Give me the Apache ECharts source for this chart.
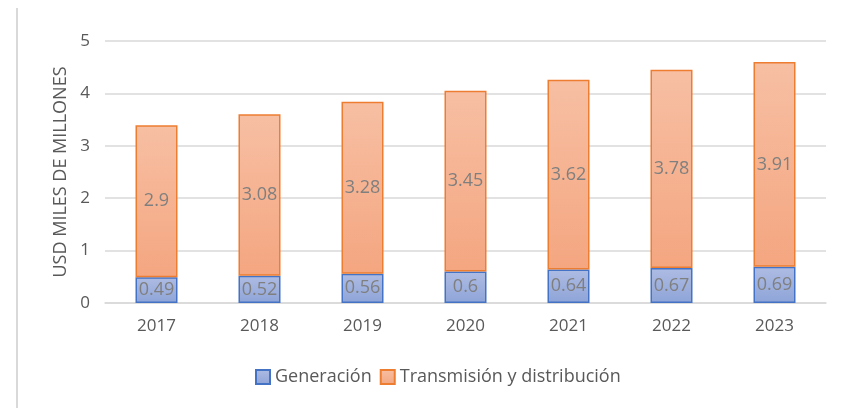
<!DOCTYPE html>
<html>
<head>
<meta charset="utf-8">
<script src="https://cdn.jsdelivr.net/npm/echarts@6/dist/echarts.min.js"></script>
<style>
  html, body { margin: 0; padding: 0; background: #fff; }
  #chart { width: 846px; height: 408px; }
</style>
</head>
<body>
<div id="chart"></div>
<script>
const years = ['2017', '2018', '2019', '2020', '2021', '2022', '2023'];
const generacion = [0.49, 0.52, 0.56, 0.6, 0.64, 0.67, 0.69];
const transmision = [2.9, 3.08, 3.28, 3.45, 3.62, 3.78, 3.91];
const yTicks = [0, 1, 2, 3, 4, 5];

const FONT = '"Open Sans", "Noto Sans", sans-serif';
const chart = echarts.init(document.getElementById('chart'));

const labelStyle = {
  show: true,
  position: 'inside',
  color: '#7f7f7f',
  fontSize: 18,
  fontFamily: FONT
};

chart.setOption({
  animation: false,
  textStyle: { fontFamily: FONT },
  grid: { left: 105, right: 20, top: 41, bottom: 105 },
  graphic: [{
    type: 'line',
    shape: { x1: 17, y1: 8, x2: 17, y2: 408 },
    style: { stroke: '#d9d9d9', lineWidth: 2 }
  }],
  legend: {
    bottom: 17,
    left: 250,
    icon: 'rect',
    itemWidth: 14,
    itemHeight: 14,
    itemGap: 8,
    textStyle: { color: '#595959', fontSize: 18, fontFamily: FONT },
    data: ['Generación', 'Transmisión y distribución']
  },
  xAxis: {
    type: 'category',
    data: years,
    axisLine: { lineStyle: { color: '#d9d9d9', width: 1.5 } },
    axisTick: { show: false },
    axisLabel: { color: '#595959', fontSize: 17, margin: 15, fontFamily: FONT }
  },
  yAxis: {
    type: 'value',
    min: yTicks[0],
    max: yTicks[yTicks.length - 1],
    interval: 1,
    name: 'USD MILES DE MILLONES',
    nameLocation: 'middle',
    nameRotate: 90,
    nameGap: 34,
    nameTextStyle: { color: '#595959', fontSize: 18, fontFamily: FONT },
    axisLine: { show: false },
    axisTick: { show: false },
    axisLabel: { color: '#595959', fontSize: 17, margin: 15, fontFamily: FONT },
    splitLine: { lineStyle: { color: '#d9d9d9', width: 1.5 } }
  },
  series: [
    {
      name: 'Generación',
      type: 'bar',
      stack: 'total',
      barWidth: 42,
      data: generacion,
      itemStyle: {
        color: new echarts.graphic.LinearGradient(0, 0, 0, 1, [
          { offset: 0, color: '#aebce3' },
          { offset: 1, color: '#8ea4d8' }
        ]),
        borderColor: '#4472c4',
        borderWidth: 1.5
      },
      label: labelStyle
    },
    {
      name: 'Transmisión y distribución',
      type: 'bar',
      stack: 'total',
      barWidth: 42,
      data: transmision,
      itemStyle: {
        color: new echarts.graphic.LinearGradient(0, 0, 0, 1, [
          { offset: 0, color: '#f7bfa3' },
          { offset: 1, color: '#f4a680' }
        ]),
        borderColor: '#ed7d31',
        borderWidth: 1.5
      },
      label: labelStyle
    }
  ]
});
</script>
</body>
</html>
